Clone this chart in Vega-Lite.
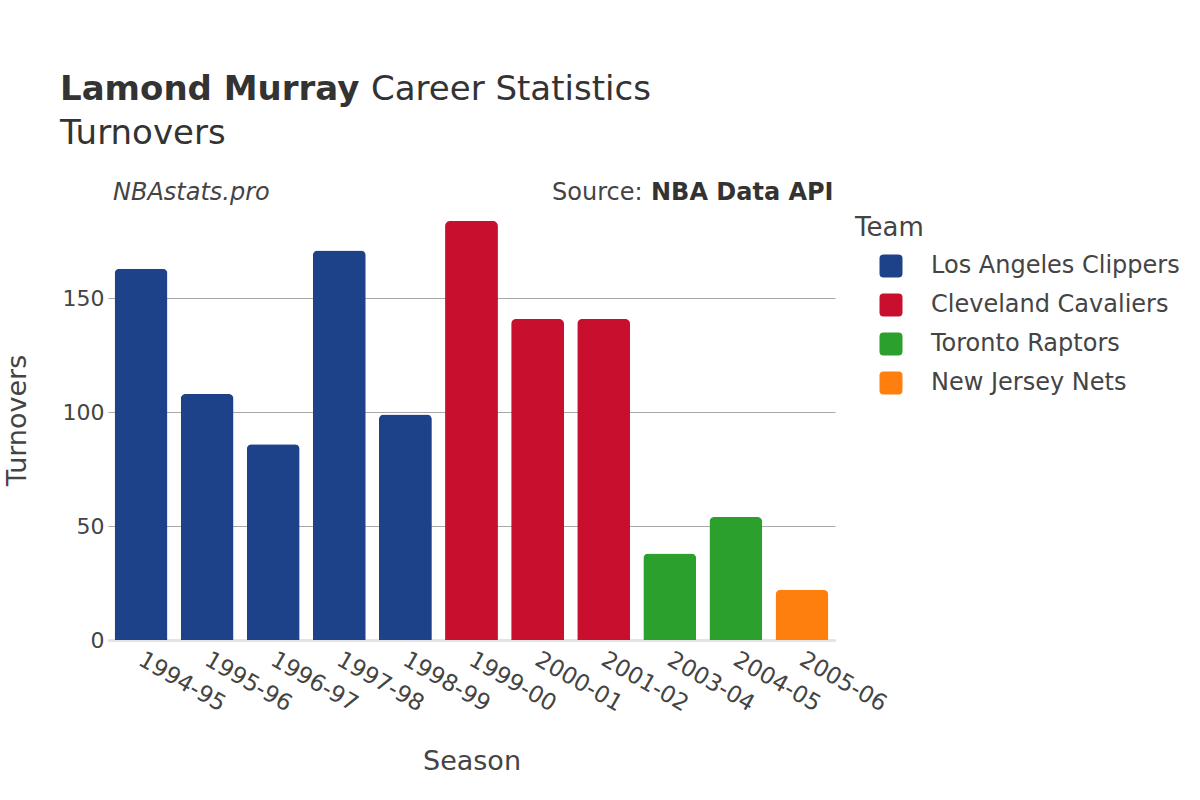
{
  "$schema": "https://vega.github.io/schema/vega-lite/v6.json",
  "width": 727,
  "height": 440,
  "autosize": "none",
  "padding": {"left": 108, "top": 200, "right": 365, "bottom": 160},
  "background": "white",
  "config": {
    "view": {"stroke": null},
    "font": "DejaVu Sans"
  },
  "data": {
    "values": [
      {"Season": "1994-95", "Team": "Los Angeles Clippers", "Turnovers": 163},
      {"Season": "1995-96", "Team": "Los Angeles Clippers", "Turnovers": 108},
      {"Season": "1996-97", "Team": "Los Angeles Clippers", "Turnovers": 86},
      {"Season": "1997-98", "Team": "Los Angeles Clippers", "Turnovers": 171},
      {"Season": "1998-99", "Team": "Los Angeles Clippers", "Turnovers": 99},
      {"Season": "1999-00", "Team": "Cleveland Cavaliers", "Turnovers": 184},
      {"Season": "2000-01", "Team": "Cleveland Cavaliers", "Turnovers": 141},
      {"Season": "2001-02", "Team": "Cleveland Cavaliers", "Turnovers": 141},
      {"Season": "2003-04", "Team": "Toronto Raptors", "Turnovers": 38},
      {"Season": "2004-05", "Team": "Toronto Raptors", "Turnovers": 54},
      {"Season": "2005-06", "Team": "New Jersey Nets", "Turnovers": 22}
    ]
  },
  "layer": [
    {
      "mark": {"type": "bar", "cornerRadiusTopLeft": 5, "cornerRadiusTopRight": 5},
      "encoding": {
        "x": {
          "field": "Season", "type": "nominal", "sort": null,
          "scale": {"paddingInner": 0.2, "paddingOuter": 0.1},
          "axis": {
            "title": "Season", "titleFontSize": 27, "titleFontWeight": "normal", "titleColor": "#444",
            "titleX": 363.5, "titleY": 129, "titleBaseline": "alphabetic",
            "labelAngle": 30, "labelAlign": "left", "labelBaseline": "top",
            "labelFontSize": 23, "labelColor": "#444", "labelPadding": 8, "labelOffset": 5, "labelOverlap": false,
            "ticks": false, "domainColor": "#e4e4e4", "domainWidth": 3, "grid": false
          }
        },
        "y": {
          "field": "Turnovers", "type": "quantitative",
          "scale": {"domain": [0, 193.2], "nice": false},
          "axis": {
            "title": "Turnovers", "titleFontSize": 27, "titleFontWeight": "normal", "titleColor": "#444",
            "titleX": -83, "titleY": 220, "titleBaseline": "alphabetic",
            "labelFontSize": 22, "labelColor": "#444", "labelPadding": 4,
            "ticks": false, "domain": false, "grid": true, "gridColor": "#a8a8a8", "gridWidth": 1,
            "values": [0, 50, 100, 150]
          }
        },
        "color": {
          "field": "Team", "type": "nominal",
          "scale": {
            "domain": ["Los Angeles Clippers", "Cleveland Cavaliers", "Toronto Raptors", "New Jersey Nets"],
            "range": ["#1D428A", "#C8102E", "#2CA02C", "#FF7F0E"]
          },
          "legend": {
            "title": null, "orient": "none", "legendX": 771, "legendY": 54,
            "symbolType": "M -1 -0.65 Q -1 -1 -0.65 -1 L 0.65 -1 Q 1 -1 1 -0.65 L 1 0.65 Q 1 1 0.65 1 L -0.65 1 Q -1 1 -1 0.65 Z",
            "symbolSize": 529, "symbolStrokeWidth": 0, "symbolOpacity": 1,
            "labelFontSize": 24, "labelColor": "#444", "labelOffset": 28, "rowPadding": 15, "labelLimit": 400
          }
        }
      }
    },
    {
      "data": {"values": [{"k": 1}]},
      "mark": {"type": "point", "opacity": 0},
      "encoding": {"shape": {"datum": "a1", "legend": {"title": "Lamond Murray", "orient": "none", "legendX": -48, "legendY": -100, "titleFontSize": 34, "titleFontWeight": "bold", "titleColor": "#333", "titleBaseline": "alphabetic", "titleLimit": 1000, "labelExpr": "''", "labelOpacity": 0, "symbolOpacity": 0, "symbolSize": 0, "symbolStrokeWidth": 0}}}
    },
    {
      "data": {"values": [{"k": 1}]},
      "mark": {"type": "point", "opacity": 0},
      "encoding": {"shape": {"datum": "a2", "legend": {"title": "Career Statistics", "orient": "none", "legendX": 263, "legendY": -100, "titleFontSize": 34, "titleFontWeight": "normal", "titleColor": "#333", "titleBaseline": "alphabetic", "titleLimit": 1000, "labelExpr": "''", "labelOpacity": 0, "symbolOpacity": 0, "symbolSize": 0, "symbolStrokeWidth": 0}}}
    },
    {
      "data": {"values": [{"k": 1}]},
      "mark": {"type": "point", "opacity": 0},
      "encoding": {"shape": {"datum": "a3", "legend": {"title": "Turnovers", "orient": "none", "legendX": -48, "legendY": -56, "titleFontSize": 34, "titleFontWeight": "normal", "titleColor": "#333", "titleBaseline": "alphabetic", "titleLimit": 1000, "labelExpr": "''", "labelOpacity": 0, "symbolOpacity": 0, "symbolSize": 0, "symbolStrokeWidth": 0}}}
    },
    {
      "data": {"values": [{"k": 1}]},
      "mark": {"type": "point", "opacity": 0},
      "encoding": {"shape": {"datum": "a4", "legend": {"title": "NBAstats.pro", "orient": "none", "legendX": 5, "legendY": 0, "titleFontSize": 24, "titleFontWeight": "normal", "titleFontStyle": "italic", "titleColor": "#444", "titleBaseline": "alphabetic", "titleLimit": 1000, "labelExpr": "''", "labelOpacity": 0, "symbolOpacity": 0, "symbolSize": 0, "symbolStrokeWidth": 0}}}
    },
    {
      "data": {"values": [{"k": 1}]},
      "mark": {"type": "point", "opacity": 0},
      "encoding": {"shape": {"datum": "a5", "legend": {"title": "Source:", "orient": "none", "legendX": 444, "legendY": 0, "titleFontSize": 24, "titleFontWeight": "normal", "titleColor": "#444", "titleBaseline": "alphabetic", "titleLimit": 1000, "labelExpr": "''", "labelOpacity": 0, "symbolOpacity": 0, "symbolSize": 0, "symbolStrokeWidth": 0}}}
    },
    {
      "data": {"values": [{"k": 1}]},
      "mark": {"type": "point", "opacity": 0},
      "encoding": {"shape": {"datum": "a6", "legend": {"title": "NBA Data API", "orient": "none", "legendX": 543, "legendY": 0, "titleFontSize": 24, "titleFontWeight": "bold", "titleColor": "#333", "titleBaseline": "alphabetic", "titleLimit": 1000, "labelExpr": "''", "labelOpacity": 0, "symbolOpacity": 0, "symbolSize": 0, "symbolStrokeWidth": 0}}}
    },
    {
      "data": {"values": [{"k": 1}]},
      "mark": {"type": "point", "opacity": 0},
      "encoding": {"shape": {"datum": "a7", "legend": {"title": "Team", "orient": "none", "legendX": 747, "legendY": 36, "titleFontSize": 26, "titleFontWeight": "normal", "titleColor": "#444", "titleBaseline": "alphabetic", "titleLimit": 1000, "labelExpr": "''", "labelOpacity": 0, "symbolOpacity": 0, "symbolSize": 0, "symbolStrokeWidth": 0}}}
    }
  ],
  "resolve": {"scale": {"shape": "independent"}, "legend": {"shape": "independent"}}
}
